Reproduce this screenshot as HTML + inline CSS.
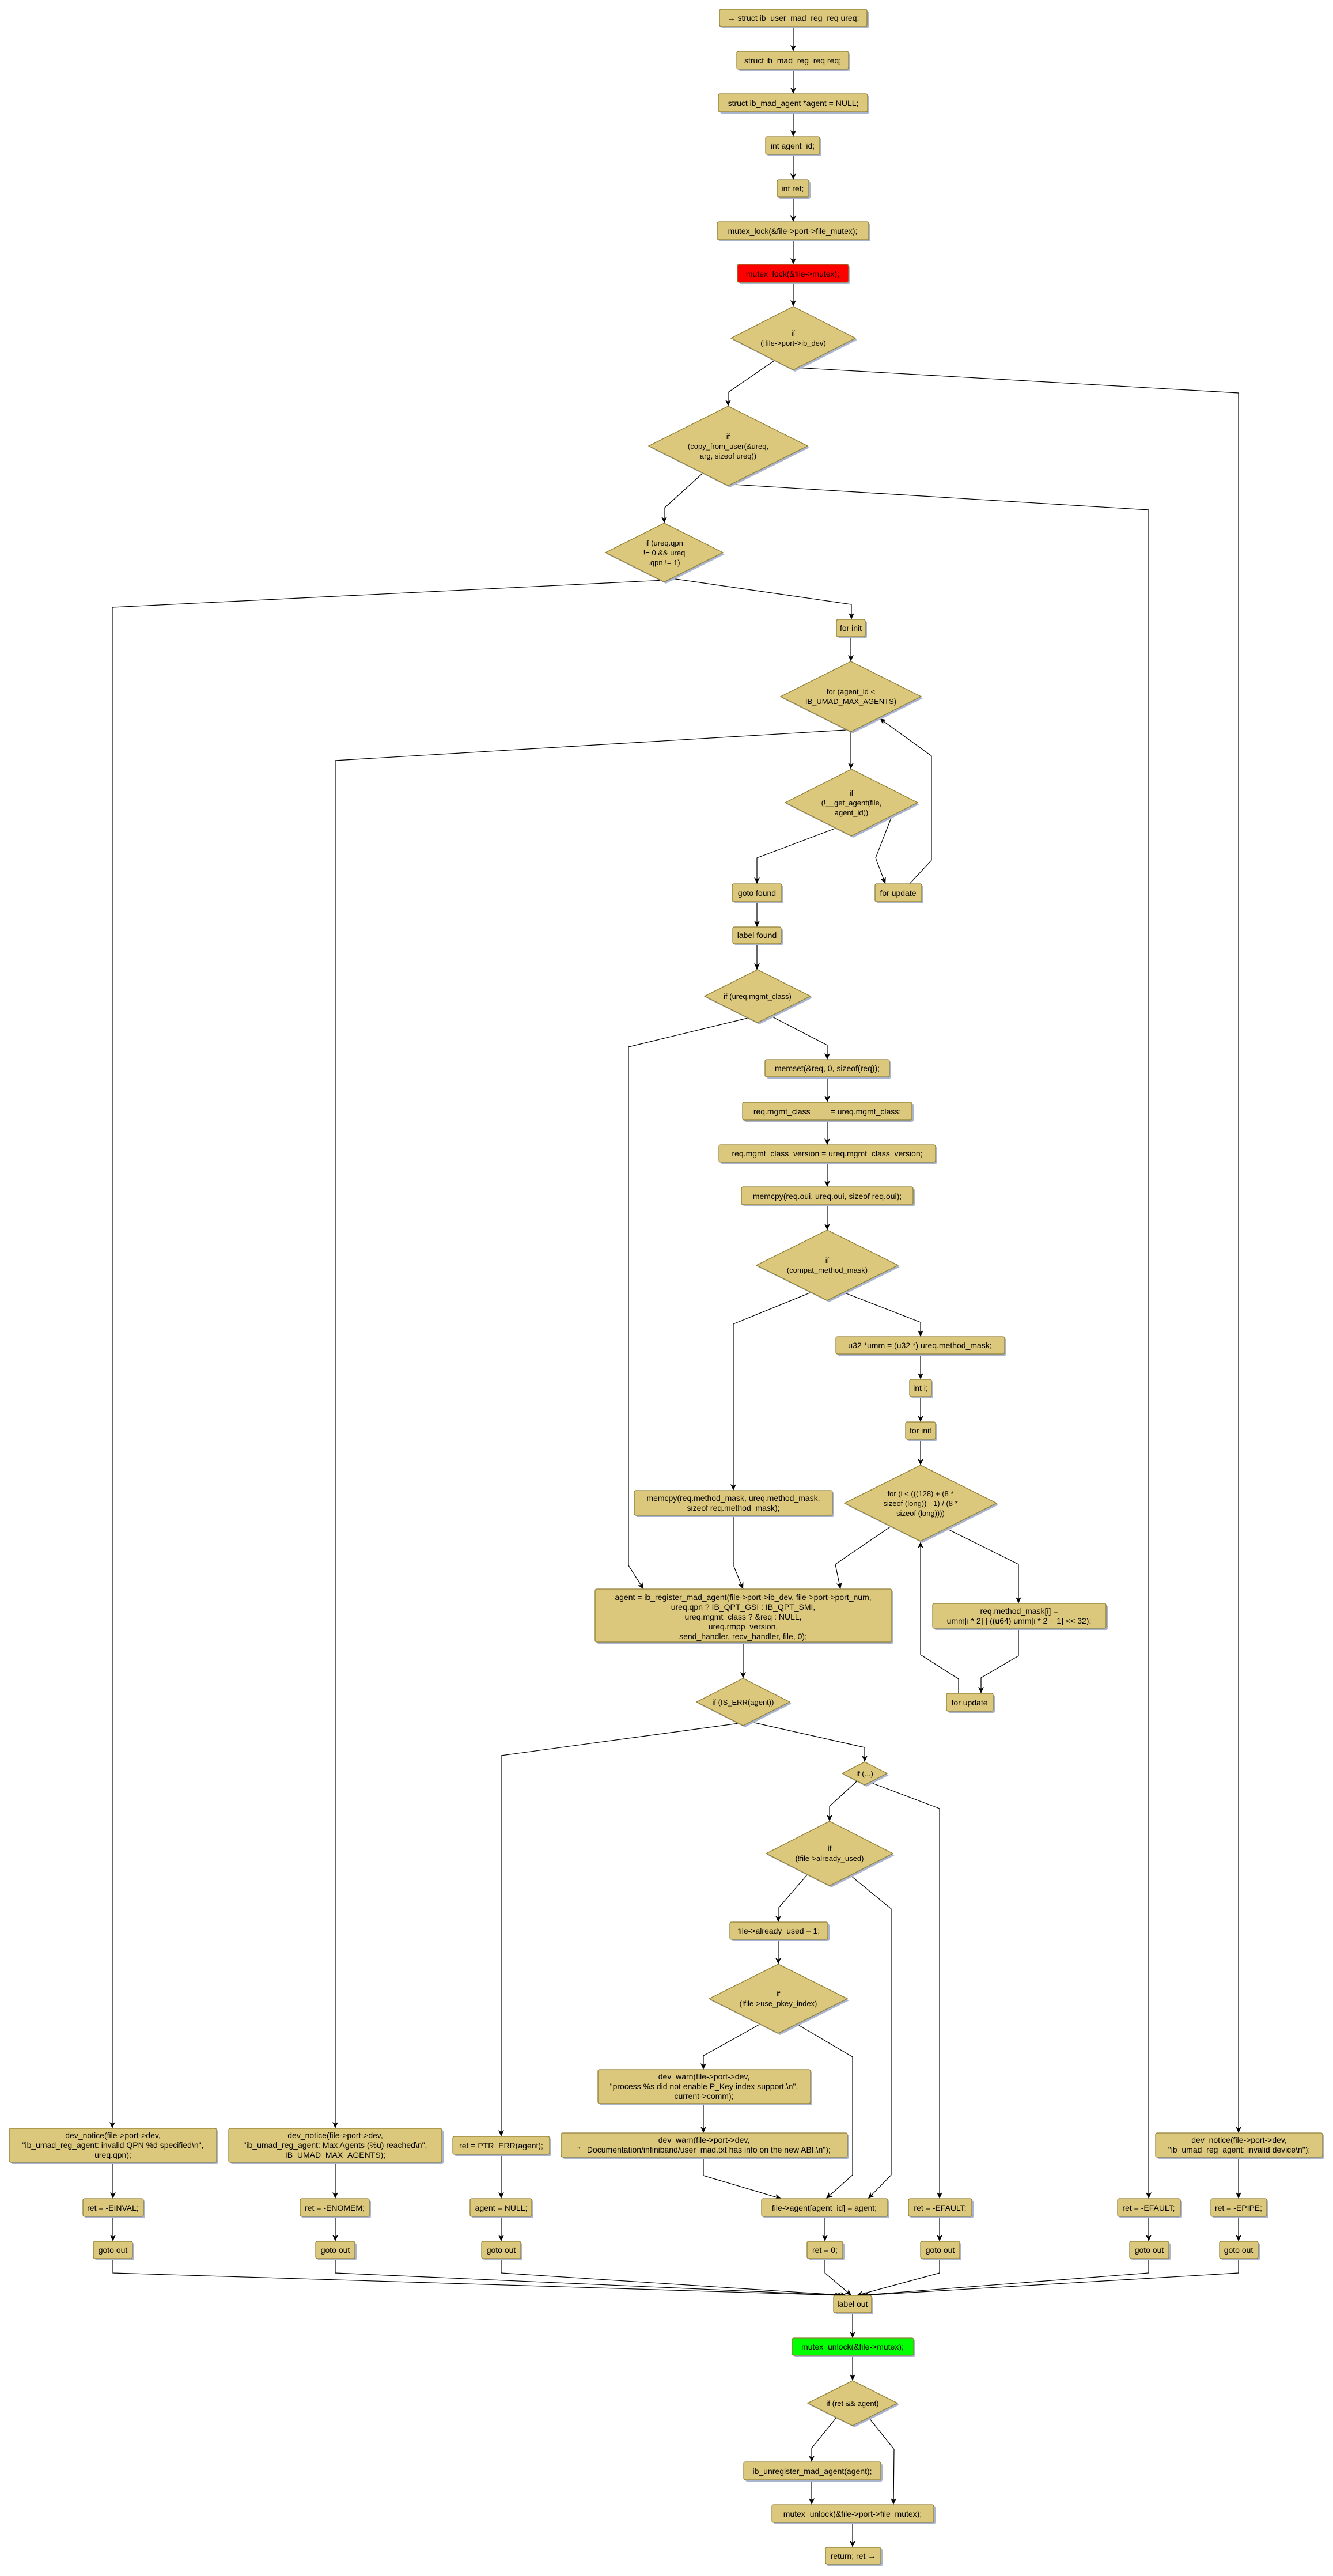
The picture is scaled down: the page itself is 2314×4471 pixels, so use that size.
<!DOCTYPE html>
<html><head><meta charset="utf-8"><style>
html,body{margin:0;padding:0;background:#fff}
svg{display:block}
text{font-family:"Liberation Sans",sans-serif;font-size:14px;fill:#000;text-anchor:middle}
.s{fill:#a9b4d0}
.b{fill:#dcc87c;stroke:#8f7f37;stroke-width:1.3}
.r{fill:#ff0000;stroke:#8f7f37;stroke-width:1.3}
.g{fill:#00ff00;stroke:#8f7f37;stroke-width:1.3}
.e{fill:none;stroke:#000;stroke-width:1.2;marker-end:url(#a)}
.d text{font-size:13px}
</style></head><body>
<svg width="2314" height="4471" viewBox="0 0 2314 4471" xmlns="http://www.w3.org/2000/svg">
<defs><marker id="a" markerWidth="12" markerHeight="12" refX="11" refY="5" orient="auto" markerUnits="userSpaceOnUse" viewBox="0 0 12 10"><path d="M0,0 L11,5 L0,10 L3,5 z" fill="#000"/></marker></defs>

<!-- edges -->
<g>
<polyline class="e" points="1377,46 1377,89"/>
<polyline class="e" points="1377,120 1377,163"/>
<polyline class="e" points="1377,194 1377,237"/>
<polyline class="e" points="1377,268 1377,312"/>
<polyline class="e" points="1377,342 1377,385"/>
<polyline class="e" points="1377,416 1377,459"/>
<polyline class="e" points="1377,490 1377,532"/>
<polyline class="e" points="1344,626 1264,681 1264,705"/>
<polyline class="e" points="1381,638 2150,682 2150,3702"/>
<polyline class="e" points="1218,823 1153,882 1153,908"/>
<polyline class="e" points="1274,841 1994,885 1994,3816"/>
<polyline class="e" points="1153,1007 195,1054 195,3694"/>
<polyline class="e" points="1166,1004 1478,1049 1478,1075"/>
<polyline class="e" points="1477,1105 1477,1148"/>
<polyline class="e" points="1468,1267 582,1320 582,3694"/>
<polyline class="e" points="1477,1270 1477,1335"/>
<polyline class="e" points="1452,1437 1314,1489 1314,1534"/>
<polyline class="e" points="1550,1412 1520,1489 1537,1534"/>
<polyline class="e" points="1579,1534 1617,1493 1617,1312 1527,1247"/>
<polyline class="e" points="1314,1565 1314,1609"/>
<polyline class="e" points="1314,1638 1314,1683"/>
<polyline class="e" points="1298,1767 1091,1817 1091,2717 1117,2758"/>
<polyline class="e" points="1337,1763 1436,1814 1436,1839"/>
<polyline class="e" points="1436,1869 1436,1913"/>
<polyline class="e" points="1436,1944 1436,1987"/>
<polyline class="e" points="1436,2017 1436,2060"/>
<polyline class="e" points="1436,2091 1436,2135"/>
<polyline class="e" points="1408,2243 1273,2298 1273,2587"/>
<polyline class="e" points="1464,2243 1598,2295 1598,2320"/>
<polyline class="e" points="1598,2350 1598,2394"/>
<polyline class="e" points="1598,2424 1598,2468"/>
<polyline class="e" points="1598,2498 1598,2543"/>
<polyline class="e" points="1274,2630 1274,2719 1290,2758"/>
<polyline class="e" points="1547,2649 1450,2715 1459,2758"/>
<polyline class="e" points="1641,2652 1768,2715 1768,2783"/>
<polyline class="e" points="1768,2826 1768,2874 1703,2912 1703,2939"/>
<polyline class="e" points="1664,2939 1664,2914 1598,2872 1598,2676"/>
<polyline class="e" points="1290,2850 1290,2913"/>
<polyline class="e" points="1283,2991 870,3047 870,3708"/>
<polyline class="e" points="1305,2989 1501,3033 1501,3058"/>
<polyline class="e" points="1487,3092 1440,3135 1440,3161"/>
<polyline class="e" points="1509,3093 1631,3139 1631,3816"/>
<polyline class="e" points="1402,3253 1351,3312 1351,3336"/>
<polyline class="e" points="1475,3254 1547,3313 1547,3775 1507,3816"/>
<polyline class="e" points="1351,3366 1351,3409"/>
<polyline class="e" points="1318,3514 1221,3568 1221,3592"/>
<polyline class="e" points="1383,3513 1480,3570 1480,3775 1434,3816"/>
<polyline class="e" points="1221,3651 1221,3702"/>
<polyline class="e" points="1221,3744 1221,3776 1356,3816"/>
<polyline class="e" points="1432,3847 1432,3890"/>
<polyline class="e" points="1631,3847 1631,3890"/>
<polyline class="e" points="1994,3847 1994,3890"/>
<polyline class="e" points="2150,3744 2150,3816"/>
<polyline class="e" points="2150,3847 2150,3890"/>
<polyline class="e" points="196,3753 196,3816"/>
<polyline class="e" points="196,3847 196,3890"/>
<polyline class="e" points="582,3753 582,3816"/>
<polyline class="e" points="582,3847 582,3890"/>
<polyline class="e" points="870,3739 870,3816"/>
<polyline class="e" points="870,3847 870,3890"/>
<polyline class="e" points="196,3920 196,3945 1460,3984"/>
<polyline class="e" points="582,3920 582,3945 1465,3984"/>
<polyline class="e" points="870,3920 870,3945 1470,3984"/>
<polyline class="e" points="1432,3920 1432,3945 1478,3984"/>
<polyline class="e" points="1631,3920 1631,3945 1487,3984"/>
<polyline class="e" points="1994,3920 1994,3945 1492,3984"/>
<polyline class="e" points="2150,3920 2150,3945 1497,3984"/>
<polyline class="e" points="1480,4014 1480,4058"/>
<polyline class="e" points="1480,4088 1480,4132"/>
<polyline class="e" points="1452,4196 1409,4249 1409,4273"/>
<polyline class="e" points="1508,4196 1552,4251 1551,4347"/>
<polyline class="e" points="1409,4304 1409,4347"/>
<polyline class="e" points="1480,4378 1480,4421"/>
</g>

<!-- boxes -->
<g>
<rect class="s" x="1252" y="19" width="256" height="30" rx="3"/><rect class="b" x="1249" y="16" width="256" height="30" rx="3"/><text x="1377" y="36">→ struct ib_user_mad_reg_req ureq;</text>
<rect class="s" x="1282" y="92" width="194" height="31" rx="3"/><rect class="b" x="1279" y="89" width="194" height="31" rx="3"/><text x="1376" y="110">struct ib_mad_reg_req req;</text>
<rect class="s" x="1250" y="166" width="259" height="31" rx="3"/><rect class="b" x="1247" y="163" width="259" height="31" rx="3"/><text x="1377" y="184">struct ib_mad_agent *agent = NULL;</text>
<rect class="s" x="1332" y="240" width="94" height="31" rx="3"/><rect class="b" x="1329" y="237" width="94" height="31" rx="3"/><text x="1376" y="258">int agent_id;</text>
<rect class="s" x="1352" y="315" width="55" height="30" rx="3"/><rect class="b" x="1349" y="312" width="55" height="30" rx="3"/><text x="1376" y="332">int ret;</text>
<rect class="s" x="1248" y="388" width="263" height="31" rx="3"/><rect class="b" x="1245" y="385" width="263" height="31" rx="3"/><text x="1376" y="406">mutex_lock(&amp;file-&gt;port-&gt;file_mutex);</text>
<rect class="s" x="1283" y="462" width="193" height="31" rx="3"/><rect class="r" x="1280" y="459" width="193" height="31" rx="3"/><text x="1376" y="480">mutex_lock(&amp;file-&gt;mutex);</text>

<rect class="s" x="1455" y="1078" width="50" height="30" rx="3"/><rect class="b" x="1452" y="1075" width="50" height="30" rx="3"/><text x="1477" y="1095">for init</text>
<rect class="s" x="1274" y="1537" width="86" height="31" rx="3"/><rect class="b" x="1271" y="1534" width="86" height="31" rx="3"/><text x="1314" y="1555">goto found</text>
<rect class="s" x="1522" y="1537" width="81" height="31" rx="3"/><rect class="b" x="1519" y="1534" width="81" height="31" rx="3"/><text x="1559" y="1555">for update</text>
<rect class="s" x="1275" y="1612" width="84" height="29" rx="3"/><rect class="b" x="1272" y="1609" width="84" height="29" rx="3"/><text x="1314" y="1628">label found</text>
<rect class="s" x="1331" y="1842" width="216" height="30" rx="3"/><rect class="b" x="1328" y="1839" width="216" height="30" rx="3"/><text x="1436" y="1859">memset(&amp;req, 0, sizeof(req));</text>
<rect class="s" x="1292" y="1916" width="294" height="31" rx="3"/><rect class="b" x="1289" y="1913" width="294" height="31" rx="3"/><text x="1436" y="1934" xml:space="preserve">req.mgmt_class         = ureq.mgmt_class;</text>
<rect class="s" x="1251" y="1990" width="376" height="30" rx="3"/><rect class="b" x="1248" y="1987" width="376" height="30" rx="3"/><text x="1436" y="2007">req.mgmt_class_version = ureq.mgmt_class_version;</text>
<rect class="s" x="1290" y="2063" width="298" height="31" rx="3"/><rect class="b" x="1287" y="2060" width="298" height="31" rx="3"/><text x="1436" y="2081">memcpy(req.oui, ureq.oui, sizeof req.oui);</text>
<rect class="s" x="1454" y="2323" width="293" height="30" rx="3"/><rect class="b" x="1451" y="2320" width="293" height="30" rx="3"/><text x="1597" y="2340">u32 *umm = (u32 *) ureq.method_mask;</text>
<rect class="s" x="1582" y="2397" width="38" height="30" rx="3"/><rect class="b" x="1579" y="2394" width="38" height="30" rx="3"/><text x="1598" y="2414">int i;</text>
<rect class="s" x="1575" y="2471" width="52" height="30" rx="3"/><rect class="b" x="1572" y="2468" width="52" height="30" rx="3"/><text x="1598" y="2488">for init</text>
<rect class="s" x="1104" y="2590" width="344" height="43" rx="3"/><rect class="b" x="1101" y="2587" width="344" height="43" rx="3"/><text x="1273" y="2605">memcpy(req.method_mask, ureq.method_mask,</text><text x="1273" y="2622">sizeof req.method_mask);</text>
<rect class="s" x="1036" y="2761" width="515" height="92" rx="3"/><rect class="b" x="1033" y="2758" width="515" height="92" rx="3"/>
<text x="1290" y="2777">agent = ib_register_mad_agent(file-&gt;port-&gt;ib_dev, file-&gt;port-&gt;port_num,</text>
<text x="1290" y="2794">ureq.qpn ? IB_QPT_GSI : IB_QPT_SMI,</text>
<text x="1290" y="2811">ureq.mgmt_class ? &amp;req : NULL,</text>
<text x="1290" y="2828">ureq.rmpp_version,</text>
<text x="1290" y="2845">send_handler, recv_handler, file, 0);</text>
<rect class="s" x="1622" y="2786" width="301" height="43" rx="3"/><rect class="b" x="1619" y="2783" width="301" height="43" rx="3"/><text x="1769" y="2801">req.method_mask[i] =</text><text x="1769" y="2818">umm[i * 2] | ((u64) umm[i * 2 + 1] &lt;&lt; 32);</text>
<rect class="s" x="1646" y="2942" width="81" height="31" rx="3"/><rect class="b" x="1643" y="2939" width="81" height="31" rx="3"/><text x="1683" y="2960">for update</text>
<rect class="s" x="1270" y="3339" width="170" height="30" rx="3"/><rect class="b" x="1267" y="3336" width="170" height="30" rx="3"/><text x="1352" y="3356">file-&gt;already_used = 1;</text>
<rect class="s" x="1041" y="3595" width="369" height="59" rx="3"/><rect class="b" x="1038" y="3592" width="369" height="59" rx="3"/><text x="1222" y="3609">dev_warn(file-&gt;port-&gt;dev,</text><text x="1222" y="3626">"process %s did not enable P_Key index support.\n",</text><text x="1222" y="3643">current-&gt;comm);</text>
<rect class="s" x="977" y="3705" width="497" height="42" rx="3"/><rect class="b" x="974" y="3702" width="497" height="42" rx="3"/><text x="1222" y="3719">dev_warn(file-&gt;port-&gt;dev,</text><text x="1222" y="3736" xml:space="preserve">"   Documentation/infiniband/user_mad.txt has info on the new ABI.\n");</text>
<rect class="s" x="1325" y="3819" width="219" height="31" rx="3"/><rect class="b" x="1322" y="3816" width="219" height="31" rx="3"/><text x="1431" y="3837">file-&gt;agent[agent_id] = agent;</text>
<rect class="s" x="1580" y="3819" width="110" height="31" rx="3"/><rect class="b" x="1577" y="3816" width="110" height="31" rx="3"/><text x="1632" y="3837">ret = -EFAULT;</text>
<rect class="s" x="1943" y="3819" width="109" height="31" rx="3"/><rect class="b" x="1940" y="3816" width="109" height="31" rx="3"/><text x="1994" y="3837">ret = -EFAULT;</text>
<rect class="s" x="2105" y="3819" width="97" height="31" rx="3"/><rect class="b" x="2102" y="3816" width="97" height="31" rx="3"/><text x="2150" y="3837">ret = -EPIPE;</text>
<rect class="s" x="2009" y="3705" width="290" height="42" rx="3"/><rect class="b" x="2006" y="3702" width="290" height="42" rx="3"/><text x="2151" y="3719">dev_notice(file-&gt;port-&gt;dev,</text><text x="2151" y="3736">"ib_umad_reg_agent: invalid device\n");</text>
<rect class="s" x="1404" y="3893" width="62" height="30" rx="3"/><rect class="b" x="1401" y="3890" width="62" height="30" rx="3"/><text x="1432" y="3910">ret = 0;</text>
<rect class="s" x="1601" y="3893" width="68" height="30" rx="3"/><rect class="b" x="1598" y="3890" width="68" height="30" rx="3"/><text x="1632" y="3910">goto out</text>
<rect class="s" x="1964" y="3893" width="68" height="30" rx="3"/><rect class="b" x="1961" y="3890" width="68" height="30" rx="3"/><text x="1995" y="3910">goto out</text>
<rect class="s" x="2120" y="3893" width="67" height="30" rx="3"/><rect class="b" x="2117" y="3890" width="67" height="30" rx="3"/><text x="2150" y="3910">goto out</text>
<rect class="s" x="19" y="3697" width="360" height="59" rx="3"/><rect class="b" x="16" y="3694" width="360" height="59" rx="3"/><text x="196" y="3711">dev_notice(file-&gt;port-&gt;dev,</text><text x="196" y="3728">"ib_umad_reg_agent: invalid QPN %d specified\n",</text><text x="196" y="3745">ureq.qpn);</text>
<rect class="s" x="400" y="3697" width="370" height="59" rx="3"/><rect class="b" x="397" y="3694" width="370" height="59" rx="3"/><text x="582" y="3711">dev_notice(file-&gt;port-&gt;dev,</text><text x="582" y="3728">"ib_umad_reg_agent: Max Agents (%u) reached\n",</text><text x="582" y="3745">IB_UMAD_MAX_AGENTS);</text>
<rect class="s" x="789" y="3711" width="168" height="31" rx="3"/><rect class="b" x="786" y="3708" width="168" height="31" rx="3"/><text x="870" y="3729">ret = PTR_ERR(agent);</text>
<rect class="s" x="147" y="3819" width="105" height="31" rx="3"/><rect class="b" x="144" y="3816" width="105" height="31" rx="3"/><text x="196" y="3837">ret = -EINVAL;</text>
<rect class="s" x="524" y="3819" width="120" height="31" rx="3"/><rect class="b" x="521" y="3816" width="120" height="31" rx="3"/><text x="581" y="3837">ret = -ENOMEM;</text>
<rect class="s" x="819" y="3819" width="107" height="31" rx="3"/><rect class="b" x="816" y="3816" width="107" height="31" rx="3"/><text x="870" y="3837">agent = NULL;</text>
<rect class="s" x="165" y="3893" width="68" height="30" rx="3"/><rect class="b" x="162" y="3890" width="68" height="30" rx="3"/><text x="196" y="3910">goto out</text>
<rect class="s" x="551" y="3893" width="68" height="30" rx="3"/><rect class="b" x="548" y="3890" width="68" height="30" rx="3"/><text x="582" y="3910">goto out</text>
<rect class="s" x="839" y="3893" width="68" height="30" rx="3"/><rect class="b" x="836" y="3890" width="68" height="30" rx="3"/><text x="870" y="3910">goto out</text>
<rect class="s" x="1450" y="3987" width="66" height="30" rx="3"/><rect class="b" x="1447" y="3984" width="66" height="30" rx="3"/><text x="1480" y="4004">label out</text>
<rect class="s" x="1378" y="4061" width="211" height="30" rx="3"/><rect class="g" x="1375" y="4058" width="211" height="30" rx="3"/><text x="1480" y="4078">mutex_unlock(&amp;file-&gt;mutex);</text>
<rect class="s" x="1294" y="4276" width="238" height="31" rx="3"/><rect class="b" x="1291" y="4273" width="238" height="31" rx="3"/><text x="1410" y="4294">ib_unregister_mad_agent(agent);</text>
<rect class="s" x="1343" y="4350" width="281" height="31" rx="3"/><rect class="b" x="1340" y="4347" width="281" height="31" rx="3"/><text x="1480" y="4368">mutex_unlock(&amp;file-&gt;port-&gt;file_mutex);</text>
<rect class="s" x="1436" y="4424" width="96" height="30" rx="3"/><rect class="b" x="1433" y="4421" width="96" height="30" rx="3"/><text x="1481" y="4441">return; ret →</text>
</g>

<!-- diamonds -->
<g class="d">
<polygon class="s" points="1380,535 1488,590 1380,645 1272,590"/><polygon class="b" points="1377,532 1485,587 1377,642 1269,587"/><text x="1377" y="583">if</text><text x="1377" y="600">(!file-&gt;port-&gt;ib_dev)</text>
<polygon class="s" points="1267,708 1405,777 1267,846 1129,777"/><polygon class="b" points="1264,705 1402,774 1264,843 1126,774"/><text x="1264" y="762">if</text><text x="1264" y="779">(copy_from_user(&amp;ureq,</text><text x="1264" y="796">arg, sizeof ureq))</text>
<polygon class="s" points="1156,911 1258,962 1156,1013 1054,962"/><polygon class="b" points="1153,908 1255,959 1153,1010 1051,959"/><text x="1153" y="947">if (ureq.qpn</text><text x="1153" y="964">!= 0 &amp;&amp; ureq</text><text x="1153" y="981">.qpn != 1)</text>
<polygon class="s" points="1480,1151 1602,1212 1480,1273 1358,1212"/><polygon class="b" points="1477,1148 1599,1209 1477,1270 1355,1209"/><text x="1477" y="1205">for (agent_id &lt;</text><text x="1477" y="1222">IB_UMAD_MAX_AGENTS)</text>
<polygon class="s" points="1481,1338 1596,1396 1481,1454 1366,1396"/><polygon class="b" points="1478,1335 1593,1393 1478,1451 1363,1393"/><text x="1478" y="1381">if</text><text x="1478" y="1398">(!__get_agent(file,</text><text x="1478" y="1415">agent_id))</text>
<polygon class="s" points="1318,1686 1410,1732 1318,1778 1226,1732"/><polygon class="b" points="1315,1683 1407,1729 1315,1775 1223,1729"/><text x="1315" y="1734">if (ureq.mgmt_class)</text>
<polygon class="s" points="1439,2138 1562,2199 1439,2260 1316,2199"/><polygon class="b" points="1436,2135 1559,2196 1436,2257 1313,2196"/><text x="1436" y="2192">if</text><text x="1436" y="2209">(compat_method_mask)</text>
<polygon class="s" points="1601,2546 1733,2612 1601,2678 1469,2612"/><polygon class="b" points="1598,2543 1730,2609 1598,2675 1466,2609"/><text x="1598" y="2597">for (i &lt; (((128) + (8 *</text><text x="1598" y="2614">sizeof (long)) - 1) / (8 *</text><text x="1598" y="2631">sizeof (long))))</text>
<polygon class="s" points="1293,2916 1374,2957 1293,2998 1212,2957"/><polygon class="b" points="1290,2913 1371,2954 1290,2995 1209,2954"/><text x="1290" y="2959">if (IS_ERR(agent))</text>
<polygon class="s" points="1504,3061 1543,3081 1504,3101 1465,3081"/><polygon class="b" points="1501,3058 1540,3078 1501,3098 1462,3078"/><text x="1501" y="3083">if (...)</text>
<polygon class="s" points="1443,3164 1553,3220 1443,3276 1333,3220"/><polygon class="b" points="1440,3161 1550,3217 1440,3273 1330,3217"/><text x="1440" y="3213">if</text><text x="1440" y="3230">(!file-&gt;already_used)</text>
<polygon class="s" points="1354,3412 1474,3472 1354,3532 1234,3472"/><polygon class="b" points="1351,3409 1471,3469 1351,3529 1231,3469"/><text x="1351" y="3465">if</text><text x="1351" y="3482">(!file-&gt;use_pkey_index)</text>
<polygon class="s" points="1483,4135 1561,4174 1483,4213 1405,4174"/><polygon class="b" points="1480,4132 1558,4171 1480,4210 1402,4171"/><text x="1480" y="4176">if (ret &amp;&amp; agent)</text>
</g>
</svg>
</body></html>
